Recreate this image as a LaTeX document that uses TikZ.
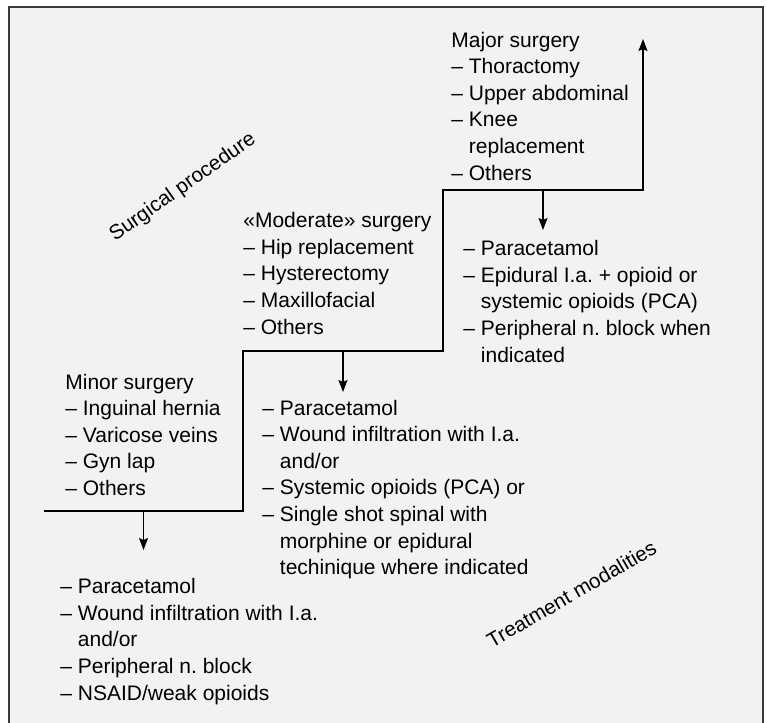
\documentclass[tikz,border=0pt]{standalone}
\usepackage{fontspec}
\setmainfont{Liberation Sans}
\usepackage{xcolor}
\usetikzlibrary{positioning,calc,arrows.meta}

\definecolor{panelbg}{RGB}{241,242,244}
\definecolor{panelframe}{RGB}{58,58,58}

\begin{document}
\frenchspacing
\begin{tikzpicture}[x=0.5pt, y=-0.5pt,
        list/.style={anchor=north west, align=left, inner sep=0pt,
            font=\fontsize{10.5}{13.3}\selectfont},
        axislabel/.style={inner sep=0pt, font=\fontsize{10.3}{12}\selectfont},
        stair/.style={line width=0.65pt},
        >={Stealth[length=6pt, width=4.5pt, inset=1pt]}
    ]
        \useasboundingbox (0,0) rectangle (767,723);
        \clip (0,0) rectangle (767,723);
        \fill[white] (0,0) rectangle (767,723);
        \draw[panelframe, line width=1pt, fill=panelbg] (9,7) rectangle (763,740);

        % staircase
        \coordinate (s0) at (44,511);
        \coordinate (s1) at (243,511);
        \coordinate (s2) at (243,351);
        \coordinate (s3) at (443,351);
        \coordinate (s4) at (443,190);
        \coordinate (s5) at (643,190);
        \coordinate (top) at (643,39);
        \draw [stair, ->] (s0) -- (s1) -- (s2) -- (s3) -- (s4) -- (s5) -- (top);

        % surgical procedures
        \node [list] (minor) at (65,373.5) {Minor surgery\\
            – Inguinal hernia\\ – Varicose veins\\ – Gyn lap\\ – Others};
        \node [list] (moderate) at (243,212) {«Moderate» surgery\\
            – Hip replacement\\ – Hysterectomy\\ – Maxillofacial\\ – Others};
        \node [list] (major) at (451,31.5) {Major surgery\\
            – Thoractomy\\ – Upper abdominal\\ – Knee\\
            \phantom{–~}replacement\\ – Others};

        % treatment modalities
        \node [list] (minortx) at (60,578) {– Paracetamol\\
            – Wound infiltration with I.a.\\ \phantom{–~}and/or\\
            – Peripheral n. block\\ – NSAID/weak opioids};
        \node [list] (moderatetx) at (262,399.5) {– Paracetamol\\
            – Wound infiltration with I.a.\\ \phantom{–~}and/or\\
            – Systemic opioids (PCA) or\\
            – Single shot spinal with\\ \phantom{–~}morphine or epidural\\
            \phantom{–~}techinique where indicated};
        \node [list] (majortx) at (463,240) {– Paracetamol\\
            – Epidural I.a. + opioid or\\ \phantom{–~}systemic opioids (PCA)\\
            – Peripheral n. block when\\ \phantom{–~}indicated};

        % arrows down to the treatments
        \draw [stair, ->] ($(s0)!.5!(s1)$) -- ++(0,39);
        \draw [stair, ->] ($(s2)!.5!(s3)$) -- ++(0,41);
        \draw [stair, ->] ($(s4)!.5!(s5)$) -- ++(0,40);

        % axis labels
        \node [axislabel, rotate=35] (surg) at (183,187.5) {Surgical procedure};
        \node [axislabel, rotate=30] (treat) at (571.5,594) {Treatment modalities};
    \end{tikzpicture}
\end{document}
